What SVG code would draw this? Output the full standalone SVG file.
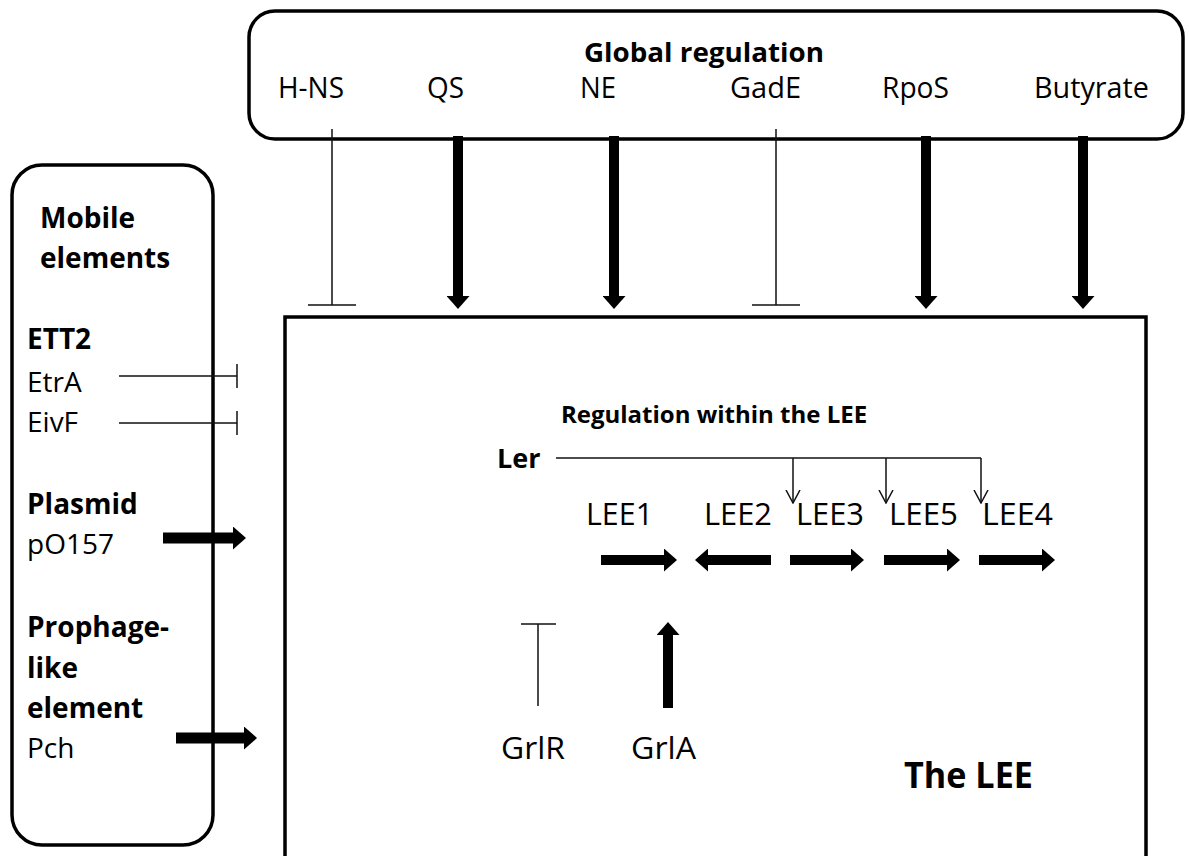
<svg xmlns="http://www.w3.org/2000/svg" width="1189" height="856" viewBox="0 0 1189 856">
<style>
.t{font-family:"Open Sans","Liberation Sans",sans-serif;fill:#000}
.b{font-weight:bold}
.top{font-size:29px}
.lee{font-size:31px}
.left{font-size:28px}
.box{fill:none;stroke:#000;stroke-width:3.5}
.thin{stroke:#111;stroke-width:1.5;fill:none}
.thick{stroke:#000;stroke-width:10;fill:none;marker-end:url(#ah)}
.ler{stroke:#111;stroke-width:1.5;fill:none;marker-end:url(#open)}
</style>
<defs>
<marker id="ah" viewBox="0 0 13 23" refX="0" refY="11.5" markerWidth="13" markerHeight="23" orient="auto" markerUnits="userSpaceOnUse">
<path d="M0,0 L13,11.5 L0,23 z" fill="#000"/>
</marker>
<marker id="open" viewBox="0 0 14 16" refX="13" refY="8" markerWidth="14" markerHeight="16" orient="auto" markerUnits="userSpaceOnUse">
<path d="M0,1 L13,8 L0,15" fill="none" stroke="#111" stroke-width="1.5"/>
</marker>
</defs>
<rect width="1189" height="856" fill="#fff"/>
<g id="global">
<rect class="box" x="249" y="11" width="934" height="128" rx="26"/>
<text class="t b" x="584" y="62" font-size="27" textLength="240" lengthAdjust="spacingAndGlyphs">Global regulation</text>
<text class="t top" x="278" y="98" textLength="66" lengthAdjust="spacingAndGlyphs">H-NS</text>
<text class="t top" x="427" y="98" textLength="37" lengthAdjust="spacingAndGlyphs">QS</text>
<text class="t top" x="580" y="98" textLength="36" lengthAdjust="spacingAndGlyphs">NE</text>
<text class="t top" x="730" y="98" textLength="71" lengthAdjust="spacingAndGlyphs">GadE</text>
<text class="t top" x="882" y="98" textLength="67" lengthAdjust="spacingAndGlyphs">RpoS</text>
<text class="t top" x="1034" y="98" textLength="115" lengthAdjust="spacingAndGlyphs">Butyrate</text>
</g>
<g id="mobile">
<rect class="box" x="12" y="165" width="201" height="680" rx="30"/>
<text class="t b left" x="40" y="228">Mobile</text>
<text class="t b left" x="40" y="268">elements</text>
<text class="t b left" x="27" y="349">ETT2</text>
<text class="t left" x="27" y="392">EtrA</text>
<text class="t left" x="27" y="432">EivF</text>
<text class="t b left" x="27" y="514">Plasmid</text>
<text class="t left" x="27" y="554">pO157</text>
<text class="t b left" x="27" y="637">Prophage-</text>
<text class="t b left" x="27" y="678">like</text>
<text class="t b left" x="27" y="718">element</text>
<text class="t left" x="27" y="758">Pch</text>
</g>
<g id="lee">
<path class="box" d="M285,860 V317 H1146 V860"/>
<text class="t b" x="714" y="423" font-size="24" text-anchor="middle">Regulation within the LEE</text>
<text class="t b" x="497" y="468" font-size="27">Ler</text>
<text class="t lee" x="586" y="525" textLength="67" lengthAdjust="spacingAndGlyphs">LEE1</text>
<text class="t lee" x="704" y="525" textLength="68" lengthAdjust="spacingAndGlyphs">LEE2</text>
<text class="t lee" x="796" y="525" textLength="68" lengthAdjust="spacingAndGlyphs">LEE3</text>
<text class="t lee" x="889" y="525" textLength="69" lengthAdjust="spacingAndGlyphs">LEE5</text>
<text class="t lee" x="982" y="525" textLength="71" lengthAdjust="spacingAndGlyphs">LEE4</text>
<text class="t lee" x="501" y="759" textLength="64" lengthAdjust="spacingAndGlyphs">GrlR</text>
<text class="t lee" x="631" y="759" textLength="65" lengthAdjust="spacingAndGlyphs">GrlA</text>
<text class="t b" x="904" y="788" font-size="35" textLength="129" lengthAdjust="spacingAndGlyphs">The LEE</text>
</g>
<g id="connectors">
<path class="thin" d="M332,129 V305 M308,305 H356"/>
<path class="thin" d="M776,129 V305 M752,305 H800"/>
<path class="thick" d="M458,136 V296"/>
<path class="thick" d="M614,136 V296"/>
<path class="thick" d="M926,136 V296"/>
<path class="thick" d="M1083,136 V296"/>
<path class="thin" d="M119,376 H237 M237,364 V388"/>
<path class="thin" d="M119,423 H237 M237,411 V435"/>
<path class="thick" d="M163,538 H233" style="stroke-width:11"/>
<path class="thick" d="M176,738 H244" style="stroke-width:11"/>
<path class="thin" d="M556,458 H981"/>
<path class="ler" d="M793,458 V503"/>
<path class="ler" d="M886,458 V503"/>
<path class="ler" d="M981,458 V503"/>
<path class="thick" d="M601,560 H664"/>
<path class="thick" d="M771,560 H708"/>
<path class="thick" d="M790,560 H851"/>
<path class="thick" d="M884,560 H947"/>
<path class="thick" d="M979,560 H1042"/>
<path class="thin" d="M538,706 V624 M521,624 H556"/>
<path class="thick" d="M668,708 V635"/>
</g>
</svg>
